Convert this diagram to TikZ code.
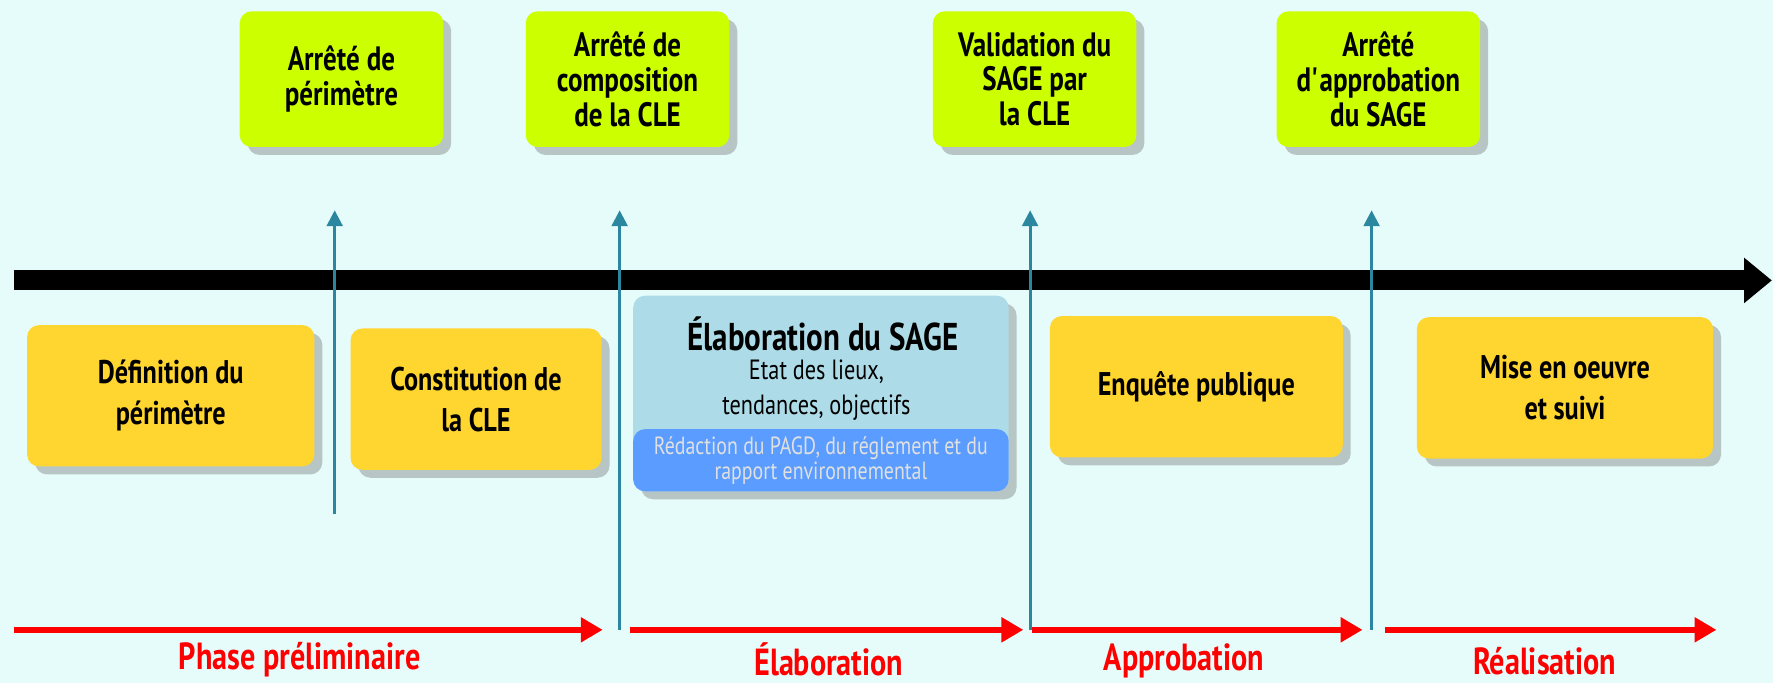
\documentclass[tikz,border=0pt]{standalone}
\usepackage{fontspec}
\setmainfont{PT Sans}[FakeStretch=0.8]
\usetikzlibrary{arrows.meta,shadows}
\definecolor{fond}{HTML}{E6FCFA}
\definecolor{vertacte}{HTML}{CCFF00}
\definecolor{orangeetape}{HTML}{FFD530}
\definecolor{bleuclair}{HTML}{ADDCE8}
\definecolor{bleuredac}{HTML}{5A9CFF}
\definecolor{bleufleche}{HTML}{2B87A0}
\definecolor{rougephase}{HTML}{FF0000}

\begin{document}
\begin{tikzpicture}[x=0.2mm,y=-0.2mm,
    ombre/.style={drop shadow={shadow xshift=4pt,shadow yshift=-4pt,opacity=0.3,fill=black!70}},
    acte/.style={ombre,fill=vertacte,rounded corners=6pt,minimum width=36mm,minimum height=24mm,
        align=center,font=\fontsize{17}{17.5}\selectfont\bfseries},
    etape/.style={ombre,fill=orangeetape,rounded corners=6pt,minimum height=25mm,
        align=center,font=\fontsize{16.5}{20.5}\selectfont\bfseries},
    phase/.style={text=rougephase,font=\fontsize{19}{22}\selectfont\bfseries},
    jalon/.style={bleufleche,line width=1.4pt,-{Triangle[width=8pt,length=8pt]}},
    periode/.style={rougephase,line width=3pt,-{Triangle[width=12pt,length=11pt]}}]
\fill[fond] (0,0) rectangle (1568,604);
\useasboundingbox (0,0) rectangle (1568,604);

    \node[acte] (arretperim) at (302,70) {Arrêté de\\périmètre\vphantom{p}};
    \node[acte] (arretcle) at (555,70) {Arrêté de\\composition\\de la CLE};
    \node[acte] (validation) at (915,70) {Validation du\\SAGE par\\la CLE};
    \node[acte] (approb) at (1219,70) {Arrêté\\d\textquotesingle approbation\\du SAGE};

    \coordinate (axedebut) at (12,248);
    \coordinate (axefin) at (1567,248);
    \draw[line width=10pt,-{Triangle[width=22pt,length=14pt]}] (axedebut) -- (axefin);

    \coordinate (j1bas) at (296,455);
    \coordinate (j1haut) at (296,186);
    \coordinate (j2bas) at (548,557);
    \coordinate (j2haut) at (548,186);
    \coordinate (j3bas) at (911,557);
    \coordinate (j3haut) at (911,186);
    \coordinate (j4bas) at (1213,557);
    \coordinate (j4haut) at (1213,186);
    \draw[jalon] (j1bas) -- (j1haut);
    \draw[jalon] (j2bas) -- (j2haut);
    \draw[jalon] (j3bas) -- (j3haut);
    \draw[jalon] (j4bas) -- (j4haut);

    \node[etape,minimum width=50.8mm] (definition) at (151,350) {Définition du\\périmètre};
    \node[etape,minimum width=44.4mm] (constitution) at (421,353) {Constitution de\\la CLE};
    \node[etape,minimum width=51.8mm] (enquete) at (1058,342) {Enquête publique};
    \node[etape,minimum width=52.4mm] (miseoeuvre) at (1384,343) {Mise en oeuvre\\et suivi};

    \node[ombre,fill=bleuclair,rounded corners=6pt,minimum width=66.4mm,minimum height=34.6mm] (elaboration) at (726,348) {};
    \node[fill=bleuredac,rounded corners=6pt,minimum width=66.4mm,minimum height=11mm,align=center,
        text=black!12,font=\fontsize{12.5}{12.5}\selectfont,inner sep=1pt] (redaction) at (726,407) {Rédaction du PAGD, du réglement et du\\rapport environnemental};
    \node[font=\fontsize{19.5}{24}\selectfont\bfseries] (titreelab) at (728,295) {Élaboration du SAGE};
    \node[align=center,font=\fontsize{14}{17.5}\selectfont] (etatlieux) at (722,345) {Etat des lieux,\\tendances, objectifs};

    \coordinate (p1debut) at (12,557);
    \coordinate (p1fin) at (533,557);
    \coordinate (p2debut) at (557,557);
    \coordinate (p2fin) at (905,557);
    \coordinate (p3debut) at (913,557);
    \coordinate (p3fin) at (1205,557);
    \coordinate (p4debut) at (1225,557);
    \coordinate (p4fin) at (1518,557);
    \draw[periode] (p1debut) -- (p1fin);
    \draw[periode] (p2debut) -- (p2fin);
    \draw[periode] (p3debut) -- (p3fin);
    \draw[periode] (p4debut) -- (p4fin);

    \node[phase] (preliminaire) at (265,583) {Phase préliminaire};
    \node[phase] (phaseelab) at (733,583) {Élaboration};
    \node[phase] (phaseapprob) at (1047,584) {Approbation};
    \node[phase] (phasereal) at (1366,585) {Réalisation};
\end{tikzpicture}
\end{document}
